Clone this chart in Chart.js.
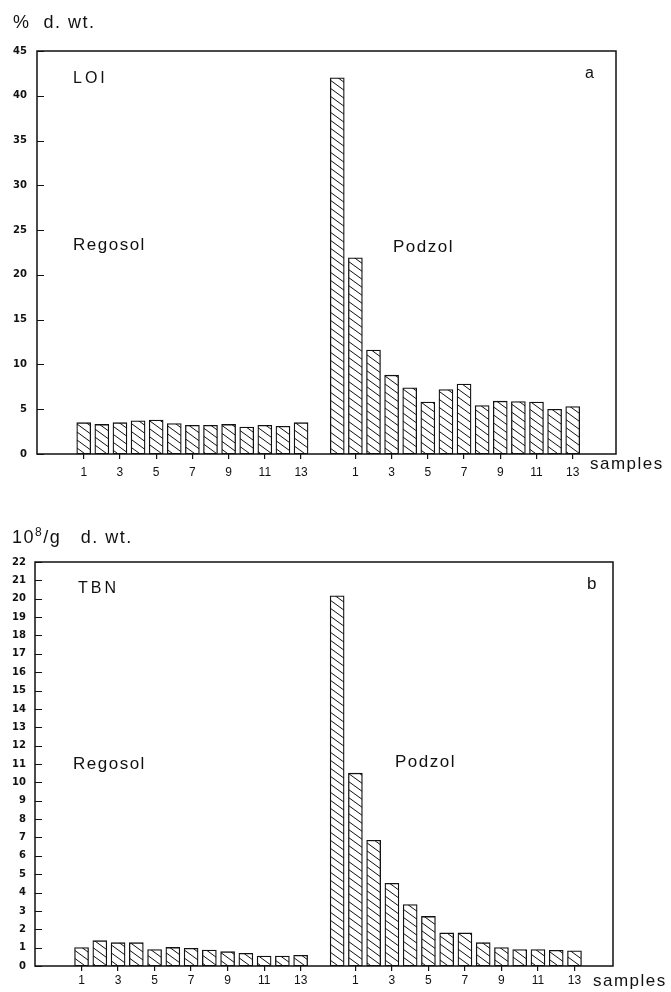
<!DOCTYPE html>
<html><head><meta charset="utf-8">
<script src="https://cdn.jsdelivr.net/npm/chart.js@4"></script>
<style>
html,body{margin:0;padding:0;background:#fff;}
body{width:671px;height:992px;position:relative;overflow:hidden;font-family:"Liberation Sans",Arial,sans-serif;color:#111;}
.t{position:absolute;line-height:1;white-space:pre;letter-spacing:1.5px;}
canvas{position:absolute;left:0;}
</style></head><body>
<canvas id="c1" width="671" height="496" style="top:0"></canvas>
<canvas id="c2" width="671" height="496" style="top:496px"></canvas>

<div class="t" style="left:13px;top:13px;font-size:18px">%  d. wt.</div>
<div class="t" style="left:73px;top:70px;font-size:16px;letter-spacing:3px">LOI</div>
<div class="t" style="left:585px;top:65px;font-size:16px">a</div>
<div class="t" style="left:73px;top:236px;font-size:17px">Regosol</div>
<div class="t" style="left:393px;top:238px;font-size:17px">Podzol</div>
<div class="t" style="left:590px;top:455px;font-size:17px">samples</div>

<div class="t" style="left:12px;top:526px;font-size:18px">10<sup style="font-size:12px;vertical-align:7px">8</sup>/g   d. wt.</div>
<div class="t" style="left:78px;top:580px;font-size:16px;letter-spacing:3px">TBN</div>
<div class="t" style="left:587px;top:575px;font-size:17px">b</div>
<div class="t" style="left:73px;top:755px;font-size:17px">Regosol</div>
<div class="t" style="left:395px;top:753px;font-size:17px">Podzol</div>
<div class="t" style="left:593px;top:972px;font-size:17px">samples</div>

<script>
// ---- data ----
const regosolSamples = [1,2,3,4,5,6,7,8,9,10,11,12,13];
const podzolSamples  = [0,1,2,3,4,5,6,7,8,9,10,11,12,13];
const labeledSamples = [1,3,5,7,9,11,13];

const regosolLOI = [3.5, 3.3, 3.5, 3.7, 3.8, 3.4, 3.2, 3.2, 3.3, 3.0, 3.2, 3.1, 3.5];
const podzolLOI  = [42.0, 21.9, 11.6, 8.8, 7.4, 5.8, 7.2, 7.8, 5.4, 5.9, 5.85, 5.8, 5.0, 5.3];

const regosolTBN = [1.0, 1.38, 1.27, 1.27, 0.9, 1.01, 0.96, 0.87, 0.78, 0.69, 0.54, 0.54, 0.58];
const podzolTBN  = [20.16, 10.5, 6.85, 4.5, 3.35, 2.7, 1.8, 1.8, 1.27, 1.0, 0.9, 0.9, 0.85, 0.83];

const loiTicks = {max: 45, step: 5};
const tbnTicks = {max: 22, step: 1};

// ---- layout helpers ----
const podStart = regosolSamples.length + 1; // one empty slot between soils

function labelFor(v){
  if (v == null || !Number.isInteger(v)) return '';
  let s = null;
  if (v >= 0 && v < regosolSamples.length) s = regosolSamples[v];
  else if (v >= podStart && v < podStart + podzolSamples.length) s = podzolSamples[v - podStart];
  return (s !== null && labeledSamples.includes(s)) ? String(s) : '';
}

function points(reg, pod){
  const pts = [];
  reg.forEach((y,i)=>pts.push({x:i, y:y}));
  pod.forEach((y,i)=>pts.push({x:podStart+i, y:y}));
  return pts;
}

function hatchPattern(ctx){
  const w = 11, h = 8;
  const c = document.createElement('canvas');
  c.width = w; c.height = h;
  const g = c.getContext('2d');
  g.fillStyle = '#fff'; g.fillRect(0,0,w,h);
  g.strokeStyle = '#111'; g.lineWidth = 1;
  g.beginPath();
  for (let k=-1;k<=1;k++){
    g.moveTo(k*w - w, -h);
    g.lineTo(k*w + 2*w, 2*h);
  }
  g.stroke();
  return ctx.createPattern(c, 'repeat');
}

const framePlugin = {
  id:'frame',
  afterDraw(chart){
    const {ctx, chartArea:a, scales:{y}} = chart;
    ctx.save();
    ctx.strokeStyle = '#111';
    ctx.lineWidth = 1.5;
    ctx.strokeRect(a.left, a.top, a.right-a.left, a.bottom-a.top);
    ctx.lineWidth = 1.2;
    ctx.beginPath();
    y.ticks.forEach(t=>{
      const py = Math.round(y.getPixelForValue(t.value)) + 0.5;
      ctx.moveTo(a.left, py); ctx.lineTo(a.left+7, py);
    });
    ctx.stroke();
    ctx.restore();
  }
};

function makeChart(id, reg, pod, yt, g){
  const canvas = document.getElementById(id);
  const ctx = canvas.getContext('2d');
  return new Chart(ctx, {
    type:'bar',
    data:{datasets:[{
      data: points(reg, pod),
      backgroundColor: hatchPattern(ctx),
      borderColor:'#111',
      borderWidth:1.3,
      borderSkipped:false,
      barThickness:14
    }]},
    options:{
      responsive:false, animation:false, devicePixelRatio:1,
      layout:{padding:{left:0, top:g.T, right:g.R, bottom:g.B}},
      plugins:{legend:{display:false}, tooltip:{enabled:false}},
      scales:{
        x:{
          type:'linear', min:g.xMin, max:g.xMax, offset:false,
          ticks:{stepSize:1, autoSkip:false, includeBounds:false, maxRotation:0, minRotation:0,
                 maxTicksLimit:200, padding:g.tickPad, color:'#111',
                 font:{family:'Liberation Sans', size:12}, callback:(v)=>labelFor(v)},
          grid:{display:true, drawOnChartArea:false, drawTicks:true, tickLength:5, offset:false,
                lineWidth:1.2,
                color:(c)=> (c.tick && labelFor(c.tick.value)) ? '#111' : 'rgba(0,0,0,0)'},
          border:{display:false},
          afterFit:(s)=>{ s.height = g.H; }
        },
        y:{
          min:0, max:yt.max,
          ticks:{stepSize:yt.step, padding:g.yPad, color:'#111',
                 font:{family:'DejaVu Sans', size:10, weight:'bold'}},
          grid:{display:false, drawTicks:false},
          border:{display:false},
          afterFit:(s)=>{ s.width = g.L; }
        }
      }
    },
    plugins:[framePlugin]
  });
}

makeChart('c1', regosolLOI, podzolLOI, loiTicks,
  {L:37, R:55, T:51, B:12, H:30, xMin:-2.58, xMax:29.39, tickPad:6, yPad:10});
makeChart('c2', regosolTBN, podzolTBN, tbnTicks,
  {L:35, R:58, T:66, B:0, H:26, xMin:-2.55, xMax:29.11, tickPad:2, yPad:9});
</script>
</body></html>
